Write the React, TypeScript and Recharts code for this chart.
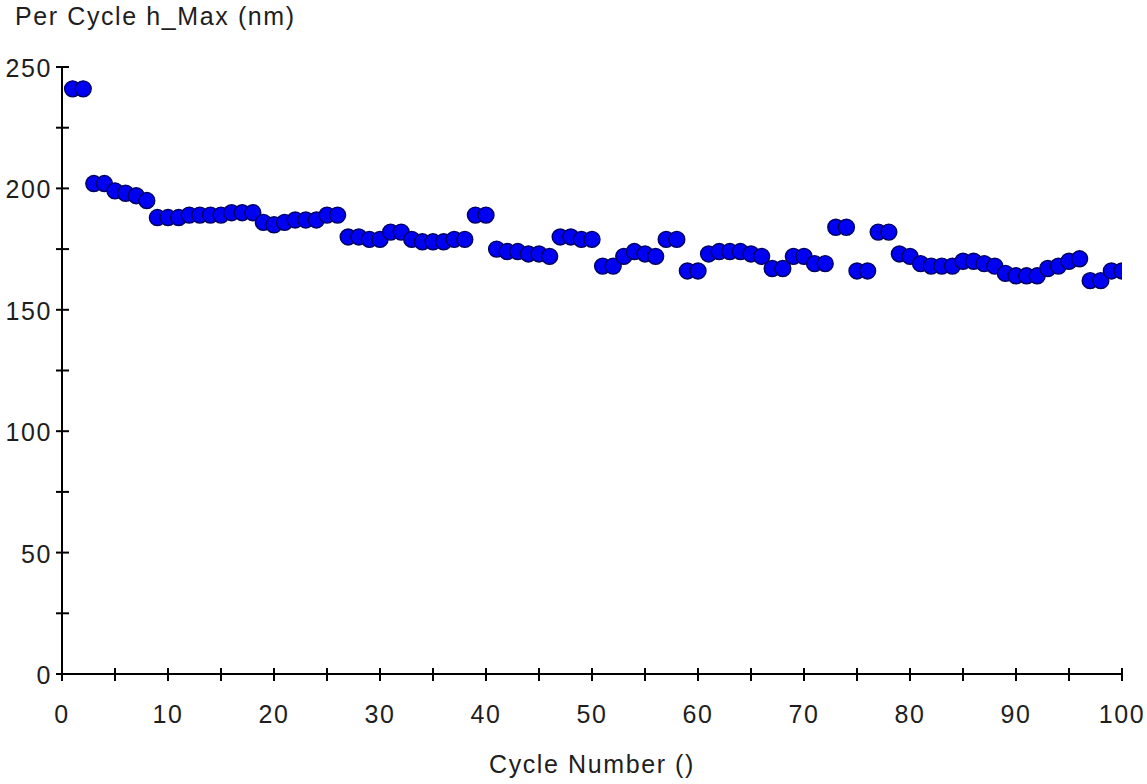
import React from "react";
import { ScatterChart, Scatter, XAxis, YAxis } from "recharts";

// Cycle numbers along the x axis
const cycles = [
  1, 2, 3, 4, 5, 6, 7, 8, 9, 10,
  11, 12, 13, 14, 15, 16, 17, 18, 19, 20,
  21, 22, 23, 24, 25, 26, 27, 28, 29, 30,
  31, 32, 33, 34, 35, 36, 37, 38, 39, 40,
  41, 42, 43, 44, 45, 46, 47, 48, 49, 50,
  51, 52, 53, 54, 55, 56, 57, 58, 59, 60,
  61, 62, 63, 64, 65, 66, 67, 68, 69, 70,
  71, 72, 73, 74, 75, 76, 77, 78, 79, 80,
  81, 82, 83, 84, 85, 86, 87, 88, 89, 90,
  91, 92, 93, 94, 95, 96, 97, 98, 99, 100,
];

// Maximum depth reached in each cycle (nm)
const hMax = [
  241, 241, 202, 202, 199, 198, 197, 195, 188, 188,
  188, 189, 189, 189, 189, 190, 190, 190, 186, 185,
  186, 187, 187, 187, 189, 189, 180, 180, 179, 179,
  182, 182, 179, 178, 178, 178, 179, 179, 189, 189,
  175, 174, 174, 173, 173, 172, 180, 180, 179, 179,
  168, 168, 172, 174, 173, 172, 179, 179, 166, 166,
  173, 174, 174, 174, 173, 172, 167, 167, 172, 172,
  169, 169, 184, 184, 166, 166, 182, 182, 173, 172,
  169, 168, 168, 168, 170, 170, 169, 168, 165, 164,
  164, 164, 167, 168, 170, 171, 162, 162, 166, 166,
];

const xTicks = [0, 5, 10, 15, 20, 25, 30, 35, 40, 45, 50, 55, 60, 65, 70, 75, 80, 85, 90, 95, 100];
const yTicks = [0, 25, 50, 75, 100, 125, 150, 175, 200, 225, 250];

const data = cycles.map((c, i) => ({ cycle: c, hmax: hMax[i] }));

const FONT = "'Liberation Sans', Arial, sans-serif";
const TEXT_COLOR = "#1e1e1e";

const XTick = (props: any) => {
  const { x, y, payload } = props;
  const v = payload.value as number;
  return (
    <g>
      <line x1={x} x2={x} y1={y - 6} y2={y + 7} stroke="#000" strokeWidth={2} />
      {v % 10 === 0 && (
        <text
          x={x}
          y={y + 49}
          textAnchor="middle"
          fontFamily={FONT}
          fontSize={25}
          letterSpacing={1.6}
          fill={TEXT_COLOR}
        >
          {v}
        </text>
      )}
    </g>
  );
};

const YTick = (props: any) => {
  const { x, y, payload } = props;
  const v = payload.value as number;
  return (
    <g>
      <line x1={x - 6} x2={x + 7} y1={y} y2={y} stroke="#000" strokeWidth={2} />
      {v % 50 === 0 && (
        <text
          x={x - 10}
          y={y + 10}
          textAnchor="end"
          fontFamily={FONT}
          fontSize={25}
          letterSpacing={1.6}
          fill={TEXT_COLOR}
        >
          {v}
        </text>
      )}
    </g>
  );
};

const Dot = (props: any) => {
  const { cx, cy } = props;
  return <circle cx={cx} cy={cy} r={8} fill="#0000f2" stroke="#000060" strokeWidth={1.4} />;
};

export default function App() {
  return (
    <div style={{ position: "fixed", left: 0, top: 0, width: 1147, height: 784, background: "#fff" }}>
      <div
        style={{
          position: "absolute",
          left: 15,
          top: 2,
          fontFamily: FONT,
          fontSize: 25,
          letterSpacing: 1.6,
          color: TEXT_COLOR,
          whiteSpace: "nowrap",
        }}
      >
        Per Cycle h_Max (nm)
      </div>
      <ScatterChart
        width={1147}
        height={784}
        margin={{ top: 67, right: 25, bottom: 0, left: 0 }}
      >
        <XAxis
          type="number"
          dataKey="cycle"
          domain={[0, 100]}
          ticks={xTicks}
          interval={0}
          height={110}
          tickSize={0}
          tickMargin={0}
          tickLine={false}
          axisLine={{ stroke: "#000", strokeWidth: 2 }}
          tick={<XTick />}
          allowDataOverflow
        />
        <YAxis
          type="number"
          dataKey="hmax"
          domain={[0, 250]}
          ticks={yTicks}
          interval={0}
          width={62}
          tickSize={0}
          tickMargin={0}
          tickLine={false}
          axisLine={{ stroke: "#000", strokeWidth: 2 }}
          tick={<YTick />}
          allowDataOverflow
        />
        <Scatter data={data} shape={<Dot />} isAnimationActive={false} />
      </ScatterChart>
      <div
        style={{
          position: "absolute",
          left: 62,
          width: 1060,
          top: 750,
          textAlign: "center",
          fontFamily: FONT,
          fontSize: 25,
          letterSpacing: 1.6,
          color: TEXT_COLOR,
          whiteSpace: "nowrap",
        }}
      >
        Cycle Number ()
      </div>
    </div>
  );
}
